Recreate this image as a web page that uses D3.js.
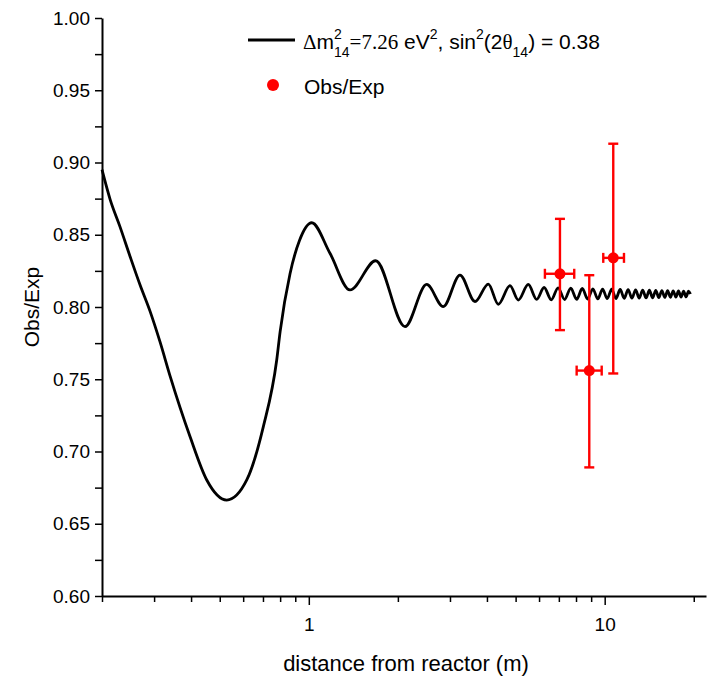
<!DOCTYPE html>
<html>
<head>
<meta charset="utf-8">
<script src="https://cdn.jsdelivr.net/npm/d3@7"></script>
<style>
  html, body { margin: 0; padding: 0; background: #fff; }
  svg text { font-family: "Liberation Sans", Arial, sans-serif; fill: #000; }
</style>
</head>
<body>
<svg id="chart" width="718" height="687"></svg>
<script>
// Oscillation curve: distance (m) and expected ratio, peaks and troughs
const curveDistance = [
  0.200, 0.213, 0.230, 0.249, 0.269, 0.291, 0.314, 0.340, 0.397, 0.452,
  0.528, 0.617, 0.702, 0.779, 0.800, 0.864, 0.930, 1.023, 1.179, 1.378,
  1.683, 2.114, 2.503, 2.848, 3.243, 3.645, 4.043, 4.369, 4.786, 5.105,
  5.518, 5.891, 6.24, 6.60, 6.96, 7.32, 7.68, 8.04, 8.40, 8.76,
  9.12, 9.48, 9.84, 10.20, 10.56, 10.92, 11.28, 11.64, 12.00, 12.36,
  12.72, 13.08, 13.44, 13.80, 14.16, 14.52, 14.88, 15.24, 15.60, 15.96,
  16.32, 16.68, 17.04, 17.40, 17.76, 18.12, 18.48, 18.84, 19.20, 19.50
];
const curveRatio = [
  0.895, 0.8745, 0.8556, 0.8348, 0.8152, 0.7968, 0.776, 0.752, 0.7102, 0.6803,
  0.6664, 0.6803, 0.7172, 0.7633, 0.783, 0.823, 0.846, 0.8583, 0.8372, 0.8118,
  0.832, 0.7864, 0.8156, 0.8003, 0.8221, 0.8038, 0.8159, 0.8019, 0.8148, 0.8048,
  0.8156, 0.8053, 0.8135, 0.8050, 0.8133, 0.8052, 0.8130, 0.8053, 0.8128, 0.8055,
  0.8126, 0.8056, 0.8124, 0.8058, 0.8123, 0.8059, 0.8121, 0.8060, 0.8120, 0.8061,
  0.8118, 0.8062, 0.8117, 0.8063, 0.8116, 0.8064, 0.8115, 0.8065, 0.8114, 0.8066,
  0.8113, 0.8067, 0.8112, 0.8068, 0.8111, 0.8069, 0.8110, 0.8070, 0.8109, 0.8090
];

// Measured points: distance, ratio, and their uncertainty ranges
const obsDistance = [7.06, 8.87, 10.69];
const obsDistLow  = [6.28, 8.04, 9.89];
const obsDistHigh = [7.89, 9.77, 11.62];
const obsRatio    = [0.823, 0.756, 0.834];
const obsRatioLow = [0.784, 0.689, 0.754];
const obsRatioHigh= [0.861, 0.822, 0.913];

// Axis ticks
const yMajorTicks = [0.60, 0.65, 0.70, 0.75, 0.80, 0.85, 0.90, 0.95, 1.00];
const yMinorTicks = [0.625, 0.675, 0.725, 0.775, 0.825, 0.875, 0.925, 0.975];
const xMajorTicks = [1, 10];
const xMinorTicks = [0.2, 0.3, 0.4, 0.5, 0.6, 0.7, 0.8, 0.9, 2, 3, 4, 5, 6, 7, 8, 9, 20];

const svg = d3.select("#chart");
const plotLeft = 102, plotRight = 706, plotTop = 18, plotBottom = 596;

const x = d3.scaleLog().domain([0.2, 22]).range([plotLeft, plotRight]);
const y = d3.scaleLinear().domain([0.6, 1.0]).range([plotBottom, plotTop]);

svg.append("rect").attr("width", 718).attr("height", 687).attr("fill", "#fff");

// Y axis
const yAxis = svg.append("g").attr("transform", `translate(${plotLeft},0)`)
  .call(d3.axisLeft(y).tickValues(yMajorTicks).tickFormat(d3.format(".2f"))
    .tickSize(7).tickSizeOuter(0).tickPadding(5));
svg.append("g").attr("transform", `translate(${plotLeft},0)`)
  .call(d3.axisLeft(y).tickValues(yMinorTicks).tickFormat("").tickSize(7).tickSizeOuter(0))
  .select(".domain").remove();

// X axis
const xAxis = svg.append("g").attr("transform", `translate(0,${plotBottom})`)
  .call(d3.axisBottom(x).tickValues(xMajorTicks).tickFormat(d3.format("d"))
    .tickSize(9).tickSizeOuter(0).tickPadding(13));
svg.append("g").attr("transform", `translate(0,${plotBottom})`)
  .call(d3.axisBottom(x).tickValues(xMinorTicks).tickFormat("").tickSize(6).tickSizeOuter(0))
  .select(".domain").remove();

svg.selectAll(".domain").attr("stroke", "#000").attr("stroke-width", 2);
svg.selectAll(".tick line").attr("stroke", "#000").attr("stroke-width", 1.5);
yAxis.selectAll(".tick text").attr("font-size", 19).attr("font-family", "Liberation Sans, Arial, sans-serif");
xAxis.selectAll(".tick text").attr("font-size", 19).attr("font-family", "Liberation Sans, Arial, sans-serif");

// Axis titles
svg.append("text").attr("x", 406).attr("y", 671).attr("text-anchor", "middle")
  .attr("font-size", 22).text("distance from reactor (m)");
svg.append("text").attr("transform", "translate(39,307) rotate(-90)")
  .attr("text-anchor", "middle").attr("font-size", 21).text("Obs/Exp");

// Oscillation curve
const pts = curveDistance.map((d, i) => [d, curveRatio[i]]);
svg.append("path").datum(pts)
  .attr("fill", "none").attr("stroke", "#000").attr("stroke-width", 2.8)
  .attr("stroke-linejoin", "round")
  .attr("d", d3.line().x(d => x(d[0])).y(d => y(d[1])).curve(d3.curveMonotoneX));

// Measured points with error bars
const red = "#ff0000";
const obs = obsDistance.map((d, i) => ({
  d, lo: obsDistLow[i], hi: obsDistHigh[i],
  r: obsRatio[i], rlo: obsRatioLow[i], rhi: obsRatioHigh[i]
}));
const g = svg.append("g").attr("stroke", red).attr("stroke-width", 2.4);
const cap = 5;
obs.forEach(o => {
  g.append("line").attr("x1", x(o.d)).attr("x2", x(o.d)).attr("y1", y(o.rlo)).attr("y2", y(o.rhi));
  g.append("line").attr("x1", x(o.d) - cap).attr("x2", x(o.d) + cap).attr("y1", y(o.rlo)).attr("y2", y(o.rlo));
  g.append("line").attr("x1", x(o.d) - cap).attr("x2", x(o.d) + cap).attr("y1", y(o.rhi)).attr("y2", y(o.rhi));
  g.append("line").attr("x1", x(o.lo)).attr("x2", x(o.hi)).attr("y1", y(o.r)).attr("y2", y(o.r));
  g.append("line").attr("x1", x(o.lo)).attr("x2", x(o.lo)).attr("y1", y(o.r) - cap).attr("y2", y(o.r) + cap);
  g.append("line").attr("x1", x(o.hi)).attr("x2", x(o.hi)).attr("y1", y(o.r) - cap).attr("y2", y(o.r) + cap);
});
svg.append("g").selectAll("circle").data(obs).join("circle")
  .attr("cx", o => x(o.d)).attr("cy", o => y(o.r)).attr("r", 5.5).attr("fill", red);

// Legend
const lg = svg.append("g");
lg.append("line").attr("x1", 248).attr("x2", 295).attr("y1", 40).attr("y2", 40)
  .attr("stroke", "#000").attr("stroke-width", 2.8);
const t = lg.append("text").attr("x", 303).attr("y", 48.5).attr("font-size", 21);
const serif = "Liberation Serif, Times New Roman, serif";
t.append("tspan").attr("font-family", serif).text("\u0394");
t.append("tspan").text("m");
t.append("tspan").attr("font-size", 14).attr("dy", -10).text("2");
t.append("tspan").attr("font-size", 14).attr("dx", -7.8).attr("dy", 18).text("14");
t.append("tspan").attr("font-family", serif).attr("dy", -8).text("=7.26");
t.append("tspan").text(" eV");
t.append("tspan").attr("font-size", 14).attr("dy", -10).text("2");
t.append("tspan").attr("dy", 10).text(", sin");
t.append("tspan").attr("font-size", 14).attr("dy", -10).text("2");
t.append("tspan").attr("dy", 10).text("(2");
t.append("tspan").attr("font-family", serif).text("\u03B8");
t.append("tspan").attr("font-size", 14).attr("dy", 8).text("14");
t.append("tspan").attr("dy", -8).text(") = 0.38");

lg.append("circle").attr("cx", 273).attr("cy", 85).attr("r", 6).attr("fill", red);
lg.append("text").attr("x", 304).attr("y", 94).attr("font-size", 21).text("Obs/Exp");
</script>
</body>
</html>
